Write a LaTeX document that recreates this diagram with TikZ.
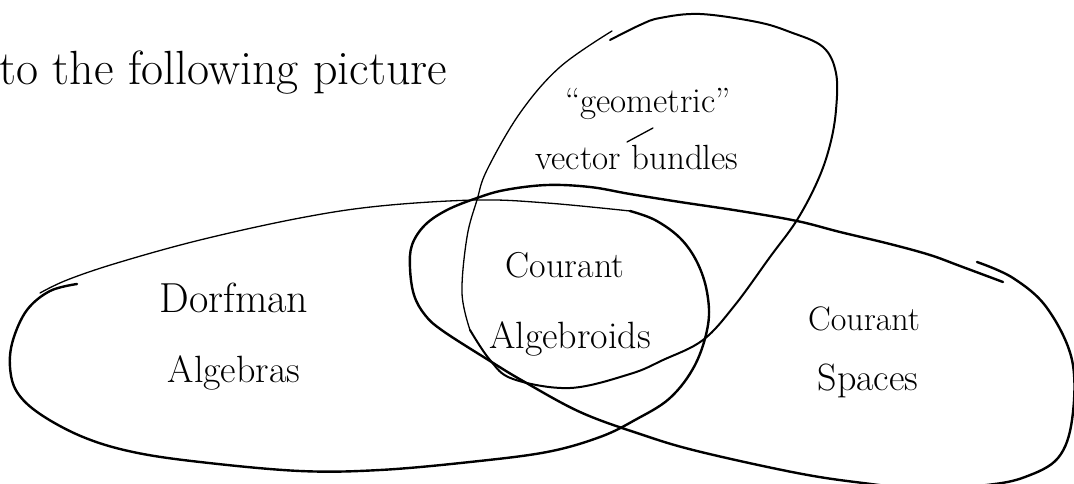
\documentclass[tikz,border=0pt]{standalone}
\usepackage{tikz}
\usetikzlibrary{calc}

\tikzset{
    pen/.style={line width=2.4pt, line cap=round, line join=round},
    thinpen/.style={line width=1.3pt, line cap=round, line join=round},
    setname/.style={font=\fontsize{38}{42}\selectfont, anchor=base, inner sep=0pt},
    smallname/.style={font=\fontsize{35}{38}\selectfont, anchor=base, inner sep=0pt}
}

\begin{document}
\begin{tikzpicture}[x=1pt, y=-1pt]
    \clip (0,0) rectangle (1074,484);
    \fill[white] (0,0) rectangle (1074,484);

    % Running text above the picture
    \node[anchor=base west, inner sep=0pt, font=\fontsize{48}{54}\selectfont] (intro) at (-1,85) {to the following picture};

    % Dorfman algebras
    \draw[pen] plot[smooth, tension=0.6] coordinates {(77,284) (50,291) (27,310) (13,340) (10,367) (17,392) (40,414) (83,437) (133,452) (200,462) (300,471) (380,470) (470,462) (547,452) (600,437) (635,420) (670,398) (695,365) (708,325) (707,292) (697,262) (680,238) (655,220) (630,211)};
    \draw[thinpen] plot[smooth, tension=0.6] coordinates {(630,211) (547,203) (477,200) (380,206) (300,218) (200,240) (117,263) (67,280) (40,293)};

    % Courant spaces
    \draw[pen] plot[smooth, tension=0.6] coordinates {(1003,282) (960,266) (930,255) (890,244) (840,232) (797,221) (740,211) (680,202) (630,194) (590,187) (547,185) (505,190) (477,198) (447,210) (425,225) (412,245) (410,268) (414,295) (425,315) (443,331) (490,361) (523,381) (580,412) (640,434) (697,451) (797,473) (863,483) (925,489) (987,485) (1025,477) (1058,458) (1072,420) (1072,360) (1047,308) (1013,278) (977,262)};

    % "geometric" vector bundles
    \draw[thinpen] plot[smooth, tension=0.6] coordinates {(612,31) (560,67) (520,113) (487,170) (477,200) (467,237) (462,293) (470,330)};
    \draw[pen, line width=2pt] plot[smooth, tension=0.6] coordinates {(610,40) (640,25) (660,18) (700,14) (757,22) (790,32) (823,47) (836,73) (836,110) (830,145) (818,180) (797,220) (770,257) (735,305) (703,340) (663,360) (630,374) (570,388) (513,379) (490,360) (470,330)};
    \draw[thinpen] (627,142) -- (653,128);

    % Labels
    \node[smallname] (geo) at (648,113) {``geometric''};
    \node[smallname] (vb) at (637,170) {vector bundles};
    \node[setname, font=\fontsize{42}{46}\selectfont] (dorf) at (234,312) {Dorfman};
    \node[setname] (dorfalg) at (234,382) {Algebras};
    \node[setname, font=\fontsize{36}{40}\selectfont] (cour) at (565,277) {Courant};
    \node[setname] (couralg) at (570,348) {Algebroids};
    \node[setname, font=\fontsize{34}{38}\selectfont] (cours) at (864,330) {Courant};
    \node[setname] (courspc) at (868,390) {Spaces};
\end{tikzpicture}
\end{document}
